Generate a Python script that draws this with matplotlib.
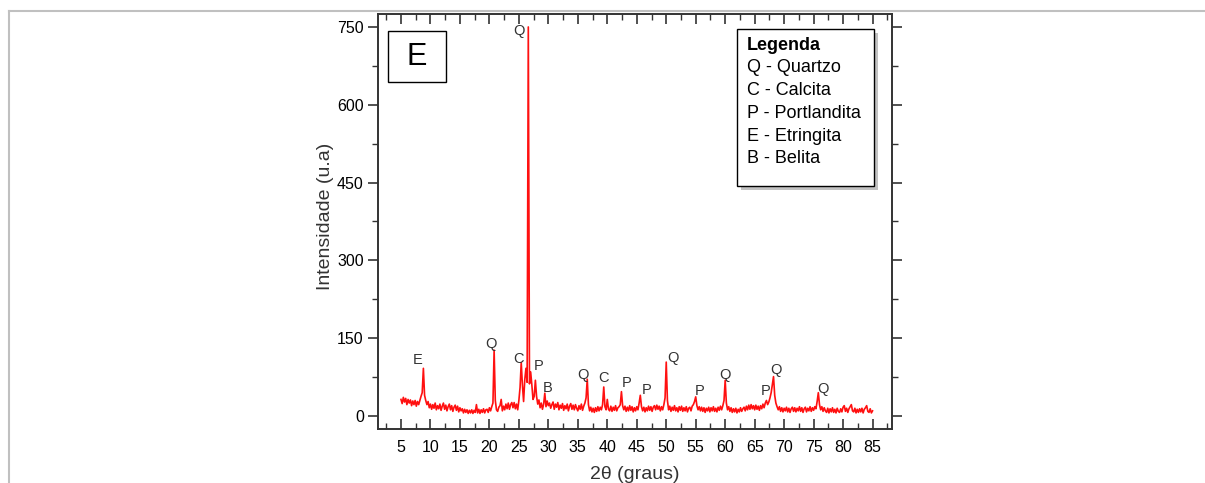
import numpy as np
import matplotlib
matplotlib.use("Agg")
import matplotlib.pyplot as plt
from matplotlib.patches import Rectangle
from matplotlib.lines import Line2D
from matplotlib.ticker import MultipleLocator

plt.rcParams['font.family'] = ['Liberation Sans', 'DejaVu Sans']

# Difratograma: intensidade a cada 0.2 graus, de 5 a 85 (uma linha = 2 graus)
intensidade = [
    32, 24, 36, 27, 34, 22, 32, 25, 31, 20,    # 5
    29, 22, 30, 19, 28, 22, 30, 38, 45, 92,    # 7
    40, 30, 22, 28, 16, 23, 13, 22, 15, 25,    # 9
    12, 20, 14, 23, 11, 19, 25, 13, 21, 10,    # 11
    18, 23, 12, 20, 9, 17, 21, 11, 19, 8,      # 13
    16, 10, 14, 6, 13, 7, 12, 5, 11, 6,        # 15
    12, 5, 11, 7, 22, 6, 13, 5, 12, 7,         # 17
    14, 6, 12, 13, 7, 16, 10, 18, 25, 127,     # 19
    30, 12, 9, 17, 20, 32, 10, 19, 12, 23,     # 21
    14, 25, 13, 22, 26, 16, 26, 14, 23, 12,    # 23
    30, 55, 103, 60, 28, 70, 92, 65, 750, 62,  # 25
    85, 60, 32, 38, 69, 38, 23, 31, 16, 25,    # 27
    13, 23, 44, 18, 29, 20, 25, 15, 22, 27,    # 29
    13, 23, 17, 26, 12, 21, 15, 24, 11, 20,    # 31
    14, 23, 10, 19, 24, 13, 21, 12, 22, 15,    # 33
    10, 20, 13, 23, 11, 19, 25, 35, 71, 22,    # 35
    10, 17, 8, 15, 7, 16, 9, 18, 10, 17,       # 37
    12, 22, 56, 18, 12, 32, 13, 10, 19, 9,     # 39
    17, 11, 20, 10, 16, 18, 22, 47, 20, 12,    # 41
    19, 9, 17, 10, 20, 11, 18, 8, 16, 10,      # 43
    18, 12, 25, 40, 18, 10, 17, 8, 16, 10,     # 45
    19, 11, 18, 9, 17, 20, 12, 21, 13, 19,     # 47
    10, 18, 12, 22, 35, 104, 30, 12, 19, 9,    # 49
    17, 11, 20, 10, 16, 8, 18, 11, 19, 9,      # 51
    16, 10, 18, 8, 15, 17, 10, 19, 22, 28,     # 53
    37, 20, 12, 18, 10, 17, 9, 16, 7, 15,      # 55
    10, 17, 8, 16, 10, 18, 9, 15, 8, 17,       # 57
    11, 19, 12, 20, 30, 69, 25, 12, 18, 9,     # 59
    16, 7, 14, 8, 15, 6, 13, 8, 16, 9,         # 61
    14, 17, 10, 19, 12, 21, 13, 22, 14, 20,    # 63
    12, 21, 13, 19, 11, 20, 14, 23, 16, 25,    # 65
    30, 22, 27, 35, 45, 60, 76, 40, 25, 18,    # 67
    12, 18, 9, 16, 8, 15, 10, 17, 8, 15,       # 69
    7, 14, 17, 9, 16, 8, 15, 10, 18, 9,        # 71
    16, 7, 14, 17, 8, 15, 10, 18, 9, 16,       # 73
    11, 18, 14, 28, 45, 22, 12, 18, 9, 16,     # 75
    10, 7, 15, 6, 14, 8, 16, 7, 13, 6,         # 77
    15, 9, 7, 14, 8, 17, 20, 9, 15, 7,         # 79
    14, 18, 22, 10, 8, 15, 6, 13, 7, 14,       # 81
    8, 15, 6, 13, 16, 20, 9, 7, 14, 6,         # 83
    10,                                        # 85
]
dois_theta = 5 + 0.2 * np.arange(len(intensidade))

# Identificacao dos picos (letra, posicao do rotulo)
picos_letra = ['E', 'Q', 'C', 'Q', 'P', 'B', 'Q', 'C', 'P', 'P', 'Q', 'P', 'Q', 'P', 'Q', 'Q']
picos_x = [7.8, 20.3, 24.9, 25.0, 28.3, 29.9, 35.8, 39.3, 43.2, 46.6, 51.1, 55.7, 60.0, 66.9, 68.6, 76.6]
picos_y = [108, 139, 109, 742, 96, 55, 79, 73, 63, 50, 111, 49, 80, 49, 89, 53]

legenda = ['Q - Quartzo', 'C - Calcita', 'P - Portlandita', 'E - Etringita', 'B - Belita']

W, H = 1205, 483
fig = plt.figure(figsize=(W / 100, H / 100), dpi=100)
ax = fig.add_axes([377.7 / W, 1 - 429 / H, (892 - 377.7) / W, (429 - 14) / H])

ax.plot(dois_theta, intensidade, color='#ff1010', lw=1.2)

ax.set_xlim(1.05, 88.3)
ax.set_ylim(-25, 775)
ax.set_xticks(np.arange(5, 86, 5))
ax.set_yticks(np.arange(0, 751, 150))
ax.xaxis.set_minor_locator(MultipleLocator(2.5))
ax.yaxis.set_minor_locator(MultipleLocator(75))

for s in ax.spines.values():
    s.set_linewidth(1.4)
    s.set_color('#333333')

ax.tick_params(axis='x', which='both', direction='in', top=True, labelsize=11.5,
               pad=8, colors='#333333', labelcolor='black')
ax.tick_params(axis='x', which='major', length=7, width=1.2)
ax.tick_params(axis='x', which='minor', length=4, width=1.0)
ax.tick_params(axis='y', which='both', direction='out', right=True, labelsize=11.5,
               pad=3, colors='#333333', labelcolor='black')
ax.tick_params(axis='y', which='major', length=7, width=1.2)
ax.tick_params(axis='y', which='minor', length=4, width=1.0)

for letra, px, py in zip(picos_letra, picos_x, picos_y):
    ax.text(px, py, letra, fontsize=10.5, color='#333333', ha='center', va='center')

# Caixa "E"
ax.add_patch(Rectangle((388 / W, 1 - 82 / H), 58 / W, 51 / H, transform=fig.transFigure,
                       fill=False, edgecolor='black', lw=1.0, zorder=5))
fig.text(417 / W, 1 - 57 / H, 'E', fontsize=22, ha='center', va='center')

# Caixa da legenda com sombra
fig.patches.append(Rectangle((741 / W, 1 - 190 / H), 137 / W, 157 / H, transform=fig.transFigure,
                             facecolor='#9a9a9a', edgecolor='none', alpha=0.6, zorder=4))
fig.patches.append(Rectangle((737 / W, 1 - 186 / H), 137 / W, 157 / H, transform=fig.transFigure,
                             facecolor='white', edgecolor='black', lw=1.0, zorder=5))
fig.text(747 / W, 1 - 45 / H, 'Legenda', fontsize=13, fontweight='bold', va='center', zorder=6)
for i, linha in enumerate(legenda):
    fig.text(747 / W, 1 - (68 + 22.7 * i) / H, linha, fontsize=13, va='center', zorder=6)

fig.text(326 / W, 1 - 216 / H, 'Intensidade (u.a)', fontsize=14, rotation=90,
         ha='center', va='center', color='#333333')
fig.text(635 / W, 1 - 479 / H, '2θ (graus)', fontsize=14, ha='center', va='baseline',
         color='#333333')

# moldura cinza da pagina
fig.lines.append(Line2D([8.5 / W, 1], [1 - 10.5 / H, 1 - 10.5 / H], transform=fig.transFigure,
                        color='#c0c0c0', lw=1.5))
fig.lines.append(Line2D([8.5 / W, 8.5 / W], [0, 1 - 10.5 / H], transform=fig.transFigure,
                        color='#c0c0c0', lw=1.5))

fig.savefig('out.png', dpi=100)
